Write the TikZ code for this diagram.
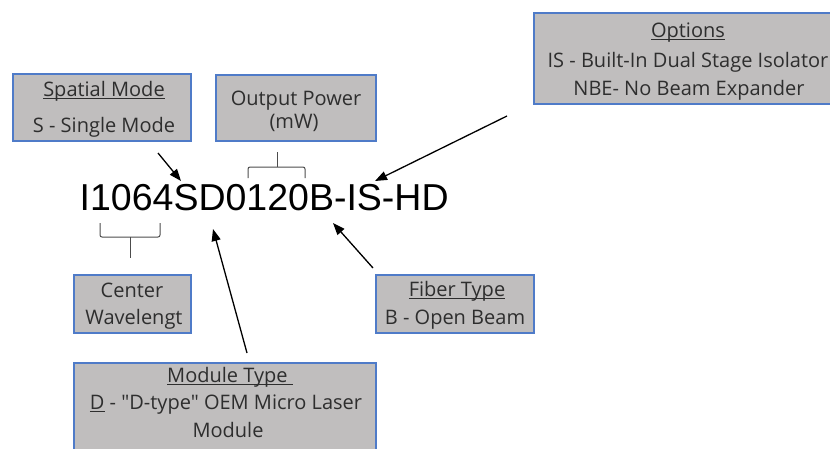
\documentclass[tikz,border=0pt]{standalone}
\usepackage{fontspec}
\setmainfont{Open Sans}[Ligatures=TeXOff]
\newfontfamily\codefont{Liberation Sans}
\usetikzlibrary{arrows.meta}
\definecolor{boxfill}{HTML}{C0BEBE}
\definecolor{boxline}{HTML}{4F7BC8}
\definecolor{boxtext}{HTML}{2E2E2E}
\newcommand\undl[1]{\setbox0\hbox{#1}\rlap{\rule[-3pt]{\wd0}{0.8pt}}\box0\relax}
\begin{document}
\begin{tikzpicture}[x=1pt,y=-1pt,
  infobox/.style={draw=boxline, line width=2.5pt, fill=boxfill},
  lbl/.style={text=boxtext, font=\fontsize{20}{22}\selectfont, inner sep=0pt, anchor=base},
  ptr/.style={draw=black, line width=1.3pt, -{Triangle[length=12pt,width=9pt]}},
  brk/.style={draw=black!70, line width=1pt, rounded corners=2pt}]
\useasboundingbox (0,0) rectangle (830,448);

% boxes
\path[infobox] (13,74) rectangle (191,141);
\path[infobox] (216,75) rectangle (376,141);
\path[infobox] (534,13) rectangle (845,104);
\path[infobox] (74,275) rectangle (191,333);
\path[infobox] (376,275) rectangle (534,333);
\path[infobox] (74,363) rectangle (376,460);

% box texts
\node[lbl] (sm1) at (104,96) {\undl{Spatial Mode}};
\node[lbl] (sm2) at (104,132.5) {S - Single Mode};
\node[lbl] (op1) at (296,105) {Output Power};
\node[lbl] (op2) at (294,128) {(mW)};
\node[lbl] (opt1) at (688,37) {\undl{Options}};
\node[lbl] (opt2) at (688,67) {IS - Built-In Dual Stage Isolator};
\node[lbl] (opt3) at (689,95) {NBE- No Beam Expander};
\node[lbl] (cw1) at (132,297) {Center};
\node[lbl] (cw2) at (134,324) {Wavelengt};
\node[lbl] (ft1) at (457,296) {\undl{Fiber Type}};
\node[lbl] (ft2) at (455,324) {B - Open Beam};
\node[lbl] (mt1) at (230,382) {\undl{Module Type\ }};
\node[lbl] (mt2) at (226,409) {\undl{D} - "D-type" OEM Micro Laser};
\node[lbl] (mt3) at (228,437) {Module};

% part number
\node[inner sep=0pt, anchor=base west, font=\codefont\fontsize{37.5}{40}\selectfont] (pn) at (79.5,210) {I1064SD0120B-IS-HD};

% arrows
\coordinate (smA) at (158,153);  \coordinate (smB) at (181,181);
\coordinate (opA) at (507,116);  \coordinate (opB) at (375,181);
\coordinate (mtA) at (247,353);  \coordinate (mtB) at (213,229);
\coordinate (ftA) at (373,268);  \coordinate (ftB) at (333,223);
\draw[ptr] (smA) -- (smB);
\draw[ptr] (opA) -- (opB);
\draw[ptr] (mtA) -- (mtB);
\draw[ptr] (ftA) -- (ftB);

% brackets
\draw[brk] (248,178) -- (248,167) -- (305,167) -- (305,178);
\draw[brk] (277,167) -- (277,152);
\draw[brk] (100,223) -- (100,237) -- (160,237) -- (160,223);
\draw[brk] (130,237) -- (130,258);
\end{tikzpicture}
\end{document}
